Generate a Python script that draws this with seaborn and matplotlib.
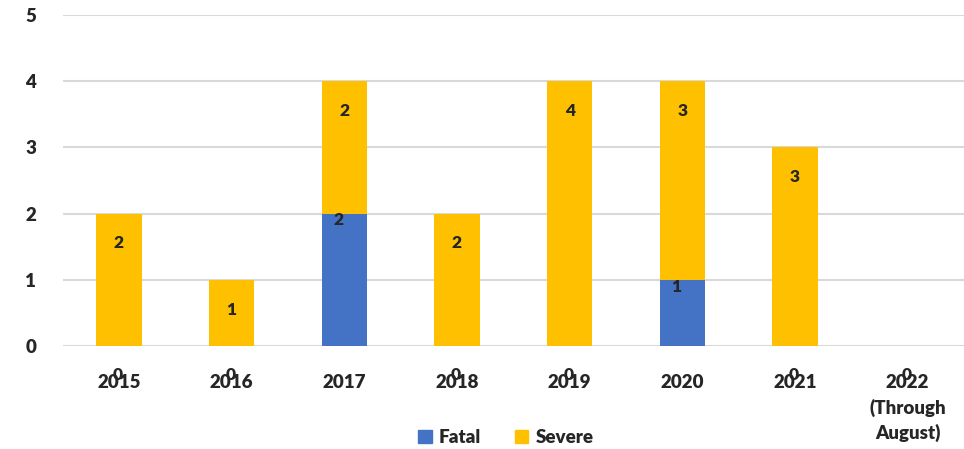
import matplotlib
matplotlib.use("Agg")
import matplotlib.pyplot as plt
import seaborn as sns
import pandas as pd
from matplotlib.patches import Patch

years = ["2015", "2016", "2017", "2018", "2019", "2020", "2021", "2022\n(Through\nAugust)"]
fatal = [0, 0, 2, 0, 0, 1, 0, 0]
severe = [2, 1, 2, 2, 4, 3, 3, 0]

blue = "#4472C4"
yellow = "#FFC000"

sns.set_style("white")
plt.rcParams['font.family'] = ['Lato', 'DejaVu Sans']
plt.rcParams['font.weight'] = 'bold'

df = pd.DataFrame({'Year': years, 'Fatal': fatal, 'Severe': severe})
df['Total'] = df['Fatal'] + df['Severe']

fig = plt.figure(figsize=(9.64, 4.49), dpi=100)
ax = fig.add_axes([0.065, 0.229, 0.935, 0.738])

# stacked: total in yellow, fatal drawn over it from zero
sns.barplot(data=df, x='Year', y='Total', color=yellow, width=0.4, saturation=1,
            linewidth=0, ax=ax, zorder=2)
sns.barplot(data=df, x='Year', y='Fatal', color=blue, width=0.4, saturation=1,
            linewidth=0, ax=ax, zorder=3)

ax.set_ylim(0, 5)
ax.set_xlim(-0.5, len(years) - 0.5)
ax.set_yticks(range(0, 6))
ax.yaxis.grid(True, color="#D9D9D9", linewidth=1.5, zorder=0)
ax.set_axisbelow(True)
for s in ax.spines.values():
    s.set_visible(False)
ax.set_xlabel("")
ax.set_ylabel("")
ax.tick_params(axis='x', length=0, pad=20, labelsize=13.5)
ax.tick_params(axis='y', length=0, pad=19, labelsize=13.5)
for lab in ax.get_xticklabels() + ax.get_yticklabels():
    lab.set_fontweight('heavy')
for lab in ax.get_xticklabels():
    lab.set_linespacing(1.5)

# value labels
for i, (f, s, t) in enumerate(zip(fatal, severe, df['Total'])):
    if s > 0:
        ax.text(i, t - 0.45, str(s), ha='center', va='center', fontsize=12.5, fontweight='heavy')
    if f > 0:
        ax.text(i - 0.05, f - 0.1, str(f), ha='center', va='center', fontsize=12.5,
                fontweight='heavy', zorder=5)
    else:
        ax.text(i - 0.01, -0.43, "0", ha='center', va='center', fontsize=12.5,
                fontweight='heavy', clip_on=False)

handles = [Patch(color=blue, label='Fatal'), Patch(color=yellow, label='Severe')]
fig.legend(handles=handles, loc='center', bbox_to_anchor=(0.525, 0.025), ncol=2, frameon=False,
           prop={'weight': 'heavy', 'size': 13.5}, handlelength=0.7, handleheight=0.7,
           handletextpad=0.4, columnspacing=1.8)

fig.savefig("out.png", dpi=100)
